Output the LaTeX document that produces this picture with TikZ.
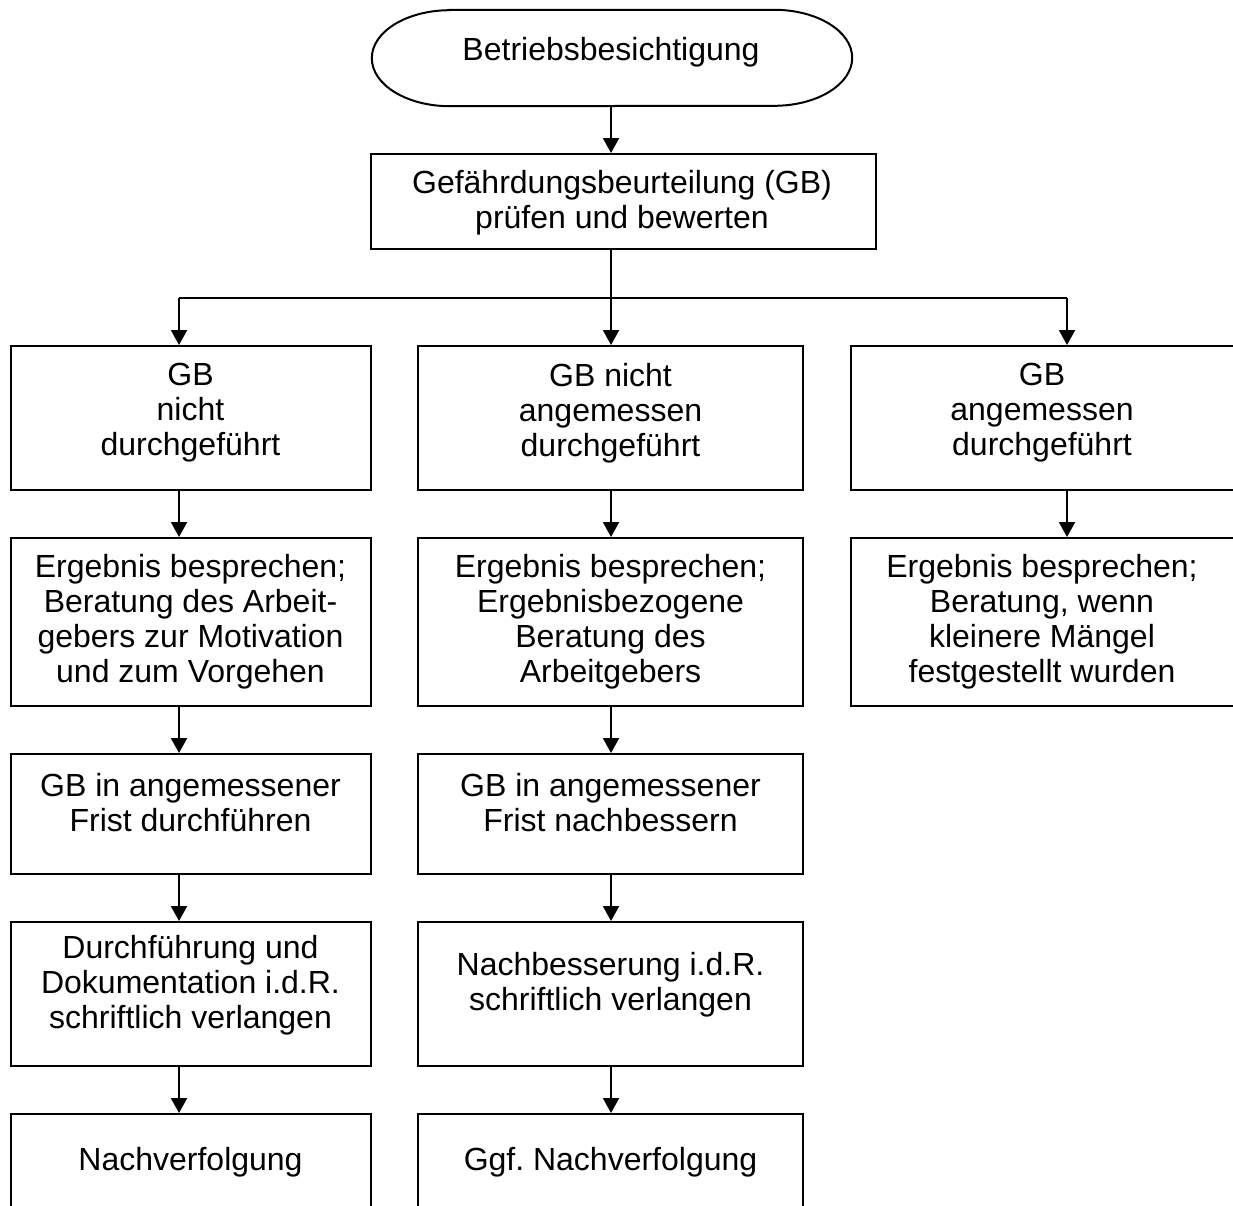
\documentclass[tikz,border=0pt]{standalone}
\usepackage{fontspec}
\setmainfont{Liberation Sans}
\usetikzlibrary{arrows.meta}
\frenchspacing
\begin{document}
\begin{tikzpicture}[x=1pt,y=-1pt,
  ln/.style={line width=2pt, draw=black},
  box/.style={ln, rectangle, inner sep=0pt},
  shell/.style={rectangle, inner sep=0pt},
  txt/.style={align=center, inner sep=0pt, font=\fontsize{32}{35}\selectfont},
  arr/.style={ln, -{Triangle[width=16pt,length=15pt]}},
  cA/.style={minimum width=360pt},
  cB/.style={minimum width=385pt},
  rA/.style={minimum height=144pt},
  rB/.style={minimum height=168pt},
  rC/.style={minimum height=120pt},
  rD/.style={minimum height=144pt},
  rE/.style={minimum height=100pt}]
\clip (0,0) rectangle (1233,1205);
% start
\node[shell, minimum width=480pt, minimum height=96pt] (s) at (612,58) {};
\draw[ln] ([xshift=78pt]s.north west) -- ([xshift=-78pt]s.north east)
  arc[start angle=90, end angle=-90, x radius=78pt, y radius=48pt]
  -- ([xshift=78pt]s.south west)
  arc[start angle=270, end angle=90, x radius=78pt, y radius=48pt] -- cycle;
\node[txt] (st) at (611,52) {Betriebsbesichtigung};
% check box
\node[box, minimum width=505pt, minimum height=95pt] (g) at (623.5,201.5) {};
\node[txt] (gt) at (622,203) {Gefährdungsbeurteilung (GB)\\prüfen und bewerten};
% branch coordinates
\coordinate (k1) at (179,298);
\coordinate (k2) at (611,298);
\coordinate (k3) at (1067,298);
% column 1
\node[box, cA, rA] (a1) at (191,418) {};
\node[box, cA, rB] (a2) at (191,622) {};
\node[box, cA, rC] (a3) at (191,814) {};
\node[box, cA, rD] (a4) at (191,994) {};
\node[box, cA, rE] (a5) at (191,1164) {};
\node[txt] (a1t) at (190.5,413) {GB\\nicht\\durchgeführt};
\node[txt] (a2t) at (190.5,622) {Ergebnis besprechen;\\Beratung des Arbeit-\\gebers zur Motivation\\und zum Vorgehen};
\node[txt] (a3t) at (190.5,803) {GB in angemessener\\Frist durchführen};
\node[txt] (a4t) at (190.5,985) {Durchführung und\\Dokumentation i.d.R.\\schriftlich verlangen};
\node[txt] (a5t) at (190.5,1162) {Nachverfolgung};
% column 2
\node[box, cB, rA] (b1) at (610.5,418) {};
\node[box, cB, rB] (b2) at (610.5,622) {};
\node[box, cB, rC] (b3) at (610.5,814) {};
\node[box, cB, rD] (b4) at (610.5,994) {};
\node[box, cB, rE] (b5) at (610.5,1164) {};
\node[txt] (b1t) at (610.5,413) {GB nicht\\angemessen\\durchgeführt};
\node[txt] (b2t) at (610.5,622) {Ergebnis besprechen;\\Ergebnisbezogene\\Beratung des\\Arbeitgebers};
\node[txt] (b3t) at (610.5,803) {GB in angemessener\\Frist nachbessern};
\node[txt] (b4t) at (610.5,985) {Nachbesserung i.d.R.\\schriftlich verlangen};
\node[txt] (b5t) at (610.5,1162) {Ggf.\ Nachverfolgung};
% column 3
\node[box, cB, rA] (c1) at (1043.5,418) {};
\node[box, cB, rB] (c2) at (1043.5,622) {};
\node[txt] (c1t) at (1042,413) {GB\\angemessen\\durchgeführt};
\node[txt] (c2t) at (1042,622) {Ergebnis besprechen;\\Beratung, wenn\\kleinere Mängel\\festgestellt wurden};
% connectors
\draw[arr] (s.south -| k2) -- (g.north -| k2);
\draw[ln] (g.south -| k2) -- (k2);
\draw[ln] (k1) -- (k3);
\draw[arr] (k1) -- (a1.north -| k1);
\draw[arr] (k2) -- (b1.north -| k2);
\draw[arr] (k3) -- (c1.north -| k3);
\draw[arr] (a1.south -| k1) -- (a2.north -| k1);
\draw[arr] (a2.south -| k1) -- (a3.north -| k1);
\draw[arr] (a3.south -| k1) -- (a4.north -| k1);
\draw[arr] (a4.south -| k1) -- (a5.north -| k1);
\draw[arr] (b1.south -| k2) -- (b2.north -| k2);
\draw[arr] (b2.south -| k2) -- (b3.north -| k2);
\draw[arr] (b3.south -| k2) -- (b4.north -| k2);
\draw[arr] (b4.south -| k2) -- (b5.north -| k2);
\draw[arr] (c1.south -| k3) -- (c2.north -| k3);
\end{tikzpicture}
\end{document}
